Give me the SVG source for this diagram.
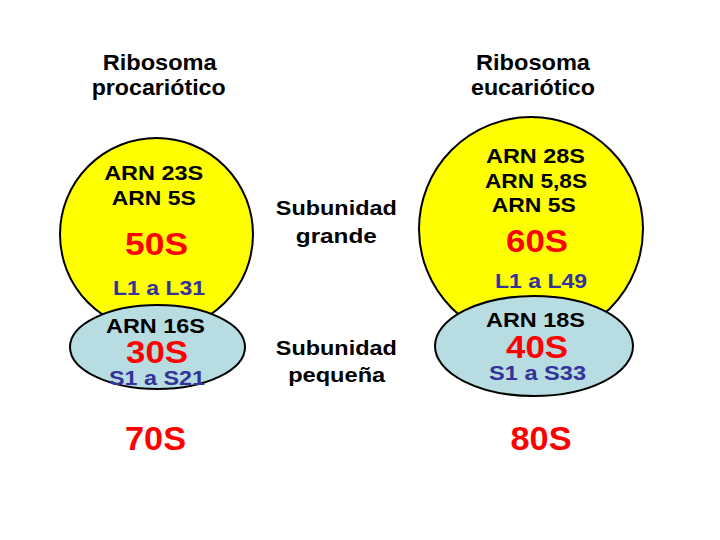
<svg xmlns="http://www.w3.org/2000/svg" width="720" height="540" viewBox="0 0 720 540">
<style>
text{font-family:"Liberation Sans",Arial,sans-serif;font-weight:bold;text-anchor:middle}
.t{font-size:22px;fill:#000}
.k{font-size:21px;fill:#000}
.r{font-size:32px;fill:#FF0000}
.n{font-size:21px;fill:#333399}
.big{fill:#FFFF00;stroke:#000;stroke-width:2}
.small{fill:#B7DDE3;stroke:#000;stroke-width:2}
</style>
<rect width="720" height="540" fill="#fff"/>
<g id="connectors"/>
<g id="title-pro">
<text class="t" x="159.7" y="69.5" textLength="114" lengthAdjust="spacingAndGlyphs">Ribosoma</text>
<text class="t" x="158.7" y="95" textLength="134" lengthAdjust="spacingAndGlyphs">procariótico</text>
</g>
<g id="title-euc">
<text class="t" x="533" y="69.5" textLength="114" lengthAdjust="spacingAndGlyphs">Ribosoma</text>
<text class="t" x="533" y="95" textLength="124" lengthAdjust="spacingAndGlyphs">eucariótico</text>
</g>
<g id="label-grande">
<text class="k" x="336.3" y="215" textLength="121" lengthAdjust="spacingAndGlyphs">Subunidad</text>
<text class="k" x="336.3" y="243" textLength="81" lengthAdjust="spacingAndGlyphs">grande</text>
</g>
<g id="label-pequena">
<text class="k" x="336.3" y="355" textLength="121" lengthAdjust="spacingAndGlyphs">Subunidad</text>
<text class="k" x="336.7" y="381.7" textLength="97" lengthAdjust="spacingAndGlyphs">pequeña</text>
</g>
<g id="pro-50S">
<circle class="big" cx="156.5" cy="234.5" r="96.5"/>
<text class="k" x="153.7" y="180" textLength="99" lengthAdjust="spacingAndGlyphs">ARN 23S</text>
<text class="k" x="153.8" y="205" textLength="84" lengthAdjust="spacingAndGlyphs">ARN 5S</text>
<text class="r" x="156.5" y="255" textLength="63" lengthAdjust="spacingAndGlyphs">50S</text>
<text class="n" x="159" y="295" textLength="92" lengthAdjust="spacingAndGlyphs">L1 a L31</text>
</g>
<g id="pro-30S">
<ellipse class="small" cx="157.5" cy="347" rx="87.5" ry="42"/>
<text class="k" x="155.5" y="333" textLength="99" lengthAdjust="spacingAndGlyphs">ARN 16S</text>
<text class="r" x="157" y="363" textLength="62" lengthAdjust="spacingAndGlyphs">30S</text>
<text class="n" x="157" y="385" textLength="96" lengthAdjust="spacingAndGlyphs">S1 a S21</text>
</g>
<g id="euc-60S">
<circle class="big" cx="531" cy="229" r="112"/>
<text class="k" x="535.5" y="163" textLength="99" lengthAdjust="spacingAndGlyphs">ARN 28S</text>
<text class="k" x="536" y="188" textLength="102" lengthAdjust="spacingAndGlyphs">ARN 5,8S</text>
<text class="k" x="533.8" y="212" textLength="84" lengthAdjust="spacingAndGlyphs">ARN 5S</text>
<text class="r" x="537" y="252" textLength="62" lengthAdjust="spacingAndGlyphs">60S</text>
<text class="n" x="541" y="288" textLength="92" lengthAdjust="spacingAndGlyphs">L1 a L49</text>
</g>
<g id="euc-40S">
<ellipse class="small" cx="534" cy="346" rx="99" ry="50"/>
<text class="k" x="535.5" y="327" textLength="99" lengthAdjust="spacingAndGlyphs">ARN 18S</text>
<text class="r" x="537" y="358" textLength="62" lengthAdjust="spacingAndGlyphs">40S</text>
<text class="n" x="537.5" y="380" textLength="97" lengthAdjust="spacingAndGlyphs">S1 a S33</text>
</g>
<g id="total-70S">
<text class="r" x="155.5" y="450" style="font-size:33px" textLength="61" lengthAdjust="spacingAndGlyphs">70S</text>
</g>
<g id="total-80S">
<text class="r" x="541" y="450" style="font-size:33px" textLength="61" lengthAdjust="spacingAndGlyphs">80S</text>
</g>
</svg>
